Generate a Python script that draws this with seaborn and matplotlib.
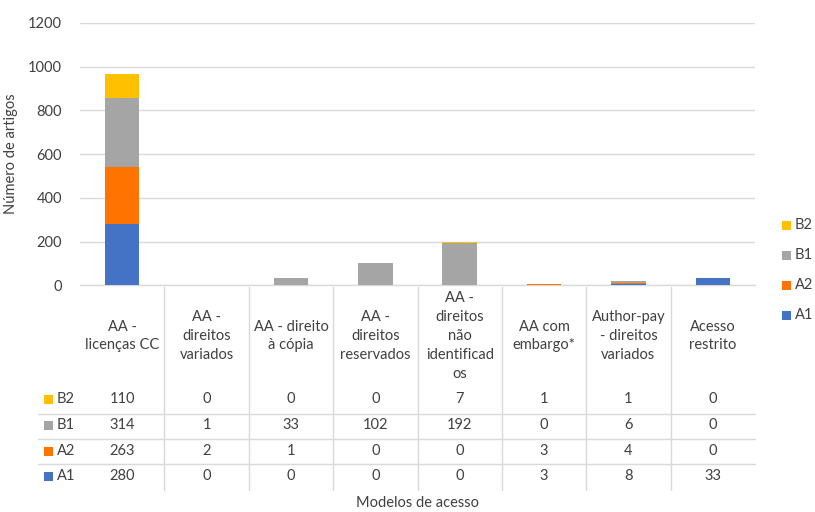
import numpy as np
import pandas as pd
import matplotlib
matplotlib.use("Agg")
import matplotlib.pyplot as plt
import matplotlib.transforms as mtransforms
from matplotlib.lines import Line2D
from matplotlib.patches import Rectangle
import seaborn as sns

# ---------------- data ----------------
categories = ["AA -\nlicenças CC", "AA -\ndireitos\nvariados", "AA - direito\nà cópia",
              "AA -\ndireitos\nreservados", "AA -\ndireitos\nnão\nidentificad\nos",
              "AA com\nembargo*", "Author-pay\n- direitos\nvariados", "Acesso\nrestrito"]
series_names = ["A1", "A2", "B1", "B2"]
A1 = [280, 0, 0, 0, 0, 3, 8, 33]
A2 = [263, 2, 1, 0, 0, 3, 4, 0]
B1 = [314, 1, 33, 102, 192, 0, 6, 0]
B2 = [110, 0, 0, 0, 7, 1, 1, 0]
yticks = [0, 200, 400, 600, 800, 1000, 1200]

colors = {"A1": "#4472C4", "A2": "#FF7300", "B1": "#A5A5A5", "B2": "#FFC000"}
series = {"A1": A1, "A2": A2, "B1": B1, "B2": B2}

# ---------------- style ----------------
sns.set_theme(style="white")
plt.rcParams["font.family"] = ["Lato", "DejaVu Sans"]
TXT = "#404040"
GRID = "#D9D9D9"

W, H = 815, 512
fig = plt.figure(figsize=(W / 100, H / 100), dpi=100)
ax_l, ax_r, ax_t, ax_b = 80, 755, 23, 285.3
ax = fig.add_axes([ax_l / W, 1 - ax_b / H, (ax_r - ax_l) / W, (ax_b - ax_t) / H])

# stacked bars via cumulative overlay
df = pd.DataFrame({"cat": categories, **series})
cum = np.zeros(len(categories))
cums = {}
for s in series_names:
    cum = cum + np.array(series[s])
    cums[s] = cum.copy()
for s in reversed(series_names):
    sns.barplot(x=df["cat"], y=cums[s], color=colors[s], width=0.41,
                linewidth=0, errorbar=None, ax=ax, saturation=1, zorder=3)

ax.set_ylim(0, 1200)
ax.set_xlim(-0.5, len(categories) - 0.5)
ax.set_yticks(yticks)
ax.set_yticklabels([str(v) for v in yticks], color=TXT, fontsize=10.5)
ax.set_xticks([])
ax.set_xlabel("")
ax.set_ylabel("Número de artigos", fontsize=10.5, color=TXT)
ax.yaxis.set_label_coords((18 - ax_l) / (ax_r - ax_l), 0.5)
ax.tick_params(axis="y", length=0, pad=13)
ax.grid(axis="y", color=GRID, linewidth=1, zorder=0)
for sp in ["top", "right", "left"]:
    ax.spines[sp].set_visible(False)
ax.spines["bottom"].set_color(GRID)
ax.spines["bottom"].set_linewidth(1)

# ---------------- data table ----------------
def fy(py):
    return 1 - py / H

def fx(px):
    return px / W

blend = mtransforms.blended_transform_factory(ax.transData, fig.transFigure)

# vertical separators between columns
for i in range(len(categories) - 1):
    fig.add_artist(Line2D([i + 0.5, i + 0.5], [fy(287), fy(490)], transform=blend,
                          color=GRID, linewidth=1))
# horizontal separators
for py in [414, 439, 464]:
    fig.add_artist(Line2D([fx(38), fx(ax_r)], [fy(py), fy(py)], transform=fig.transFigure,
                          color=GRID, linewidth=1))

# header labels
for i, c in enumerate(categories):
    fig.text(i, fy(336), c, transform=blend, ha="center", va="center",
             fontsize=10.5, color=TXT, linespacing=1.45)

row_order = ["B2", "B1", "A2", "A1"]
row_y = {"B2": 399, "B1": 425, "A2": 451, "A1": 476}
for s in row_order:
    y = fy(row_y[s])
    fig.add_artist(Rectangle((fx(44), y - 4.5 / H), 8.5 / W, 8.5 / H,
                             transform=fig.transFigure, color=colors[s], linewidth=0))
    fig.text(fx(57), y, s, ha="left", va="center", fontsize=10.5, color=TXT)
    for i, v in enumerate(series[s]):
        fig.text(i, y, str(v), transform=blend, ha="center", va="center",
                 fontsize=10.5, color=TXT)

fig.text(fx((ax_l + ax_r) / 2), fy(503), "Modelos de acesso", ha="center", va="center",
         fontsize=10.5, color=TXT)

# ---------------- legend ----------------
leg_y = {"B2": 225, "B1": 255, "A2": 285, "A1": 315}
for s in row_order:
    y = fy(leg_y[s])
    fig.add_artist(Rectangle((fx(782), y - 4.5 / H), 8.5 / W, 8.5 / H,
                             transform=fig.transFigure, color=colors[s], linewidth=0))
    fig.text(fx(795), y, s, ha="left", va="center", fontsize=10.5, color=TXT)

fig.savefig("out.png", dpi=100)
